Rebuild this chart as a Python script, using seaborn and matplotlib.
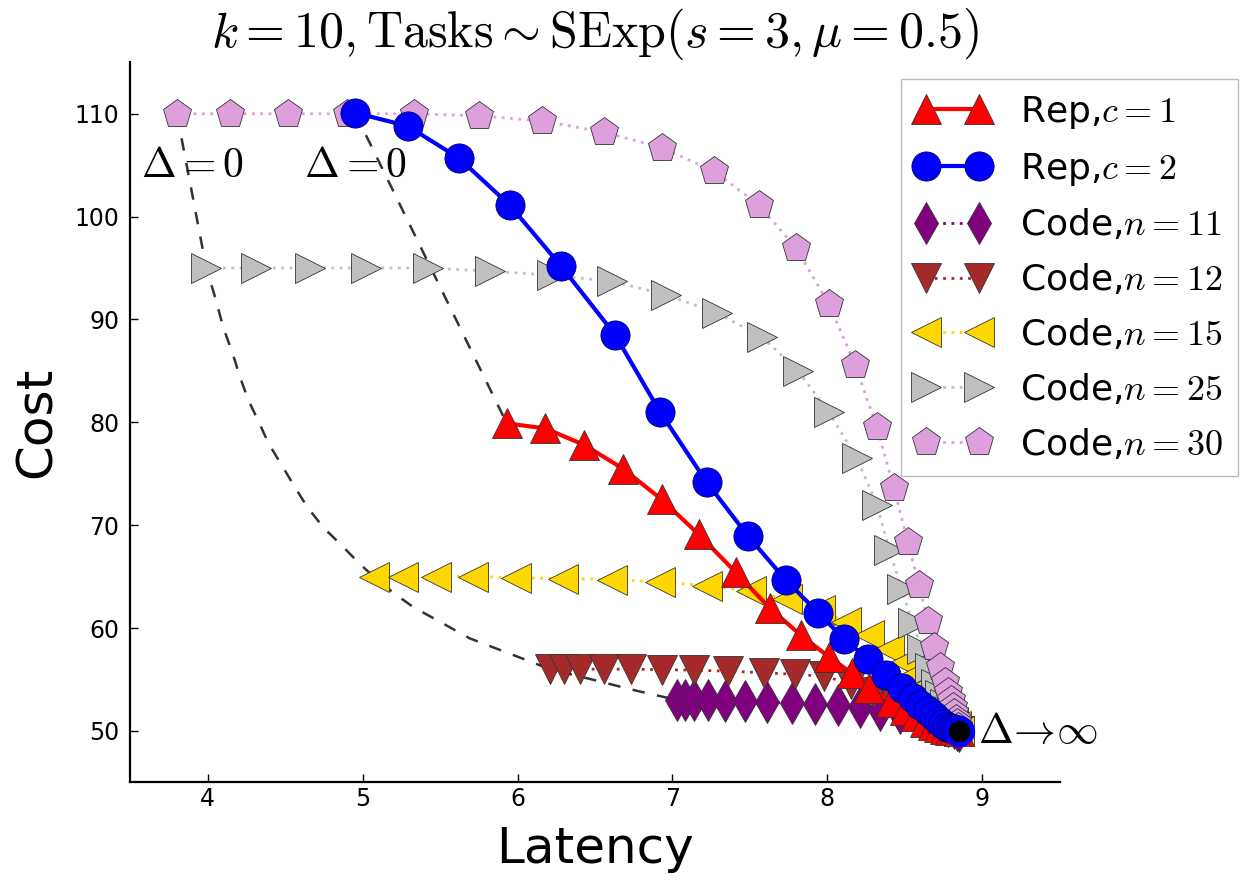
import numpy as np
import pandas as pd
import seaborn as sns
import matplotlib
matplotlib.use('Agg')
import matplotlib.pyplot as plt

# latency / cost points, one list per scheme (Delta grows along each list)
rep1_lat = [5.93, 6.18, 6.43, 6.68, 6.93, 7.17, 7.41, 7.63, 7.83, 8.01, 8.16, 8.27, 8.41, 8.50, 8.57,
            8.63, 8.68, 8.72, 8.76, 8.79, 8.82, 8.85]
rep1_cost = [79.9, 79.4, 77.8, 75.5, 72.5, 69.1, 65.4, 61.9, 59.3, 57.2, 55.6, 54.2, 52.8, 52.0, 51.4,
             50.9, 50.6, 50.4, 50.2, 50.1, 50.05, 50.0]

rep2_lat = [4.95, 5.29, 5.62, 5.95, 6.28, 6.63, 6.92, 7.22, 7.49, 7.73, 7.94, 8.11, 8.26, 8.38, 8.48,
            8.55, 8.60, 8.65, 8.69, 8.72, 8.75, 8.77, 8.80, 8.82, 8.84, 8.85]
rep2_cost = [110.1, 108.8, 105.7, 101.1, 95.2, 88.5, 81.0, 74.2, 68.9, 64.7, 61.5, 58.9, 57.0, 55.4, 54.2,
             53.2, 52.5, 51.9, 51.4, 51.0, 50.7, 50.4, 50.3, 50.2, 50.1, 50.0]

n11_lat = [7.03, 7.08, 7.14, 7.23, 7.34, 7.47, 7.61, 7.77, 7.92, 8.07, 8.21, 8.34, 8.47, 8.58, 8.66,
           8.73, 8.78, 8.82, 8.84, 8.85]
n11_cost = [53.0, 53.0, 53.0, 53.0, 52.95, 52.9, 52.8, 52.7, 52.6, 52.5, 52.3, 52.0, 51.7, 51.4, 51.1,
            50.8, 50.5, 50.3, 50.1, 50.0]

n12_lat = [6.21, 6.30, 6.40, 6.56, 6.73, 6.93, 7.14, 7.36, 7.59, 7.79, 7.98, 8.15, 8.30, 8.43, 8.53,
           8.61, 8.68, 8.73, 8.77, 8.81, 8.83, 8.85]
n12_cost = [56.0, 56.0, 56.0, 56.0, 56.0, 55.95, 55.9, 55.8, 55.65, 55.5, 55.3, 54.6, 53.8, 53.0, 52.3,
            51.7, 51.2, 50.8, 50.5, 50.3, 50.1, 50.0]

n15_lat = [5.07, 5.26, 5.47, 5.71, 5.99, 6.29, 6.61, 6.92, 7.22, 7.51, 7.74, 7.95, 8.12, 8.27, 8.40,
           8.50, 8.57, 8.63, 8.68, 8.72, 8.76, 8.79, 8.81, 8.83, 8.85]
n15_cost = [65.0, 65.0, 65.0, 65.0, 64.9, 64.8, 64.7, 64.5, 64.1, 63.6, 62.8, 61.8, 60.6, 59.3, 58.0,
            56.7, 55.5, 54.4, 53.5, 52.7, 52.0, 51.4, 50.9, 50.5, 50.0]

n25_lat = [3.99, 4.31, 4.66, 5.02, 5.42, 5.82, 6.22, 6.61, 6.96, 7.29, 7.58, 7.81, 8.01, 8.19, 8.32,
           8.40, 8.48, 8.55, 8.61, 8.66, 8.70, 8.73, 8.76, 8.78, 8.80, 8.82, 8.835, 8.85]
n25_cost = [95.0, 95.0, 95.0, 95.0, 95.0, 94.7, 94.3, 93.7, 92.4, 90.6, 88.3, 85.0, 81.0, 76.5, 72.0,
            67.6, 63.8, 60.5, 58.0, 56.1, 54.6, 53.5, 52.6, 51.9, 51.3, 50.8, 50.4, 50.0]

n30_lat = [3.80, 4.14, 4.52, 4.90, 5.33, 5.75, 6.16, 6.56, 6.93, 7.27, 7.56, 7.80, 8.01, 8.18, 8.32,
           8.43, 8.52, 8.59, 8.65, 8.69, 8.73, 8.76, 8.78, 8.80, 8.81, 8.82, 8.83, 8.84, 8.845, 8.85]
n30_cost = [110.0, 110.0, 110.0, 110.0, 110.0, 109.8, 109.3, 108.2, 106.7, 104.4, 101.1, 96.9, 91.5, 85.6, 79.5,
            73.6, 68.4, 64.2, 60.7, 58.2, 56.2, 54.8, 53.8, 53.0, 52.3, 51.7, 51.2, 50.8, 50.4, 50.0]

# Delta = 0 frontiers (dashed)
code_d0_lat = [3.80, 3.99, 4.05, 4.10, 4.16, 4.21, 4.26, 4.33, 4.39, 4.47, 4.55, 4.64, 4.75, 4.86, 4.97,
               5.07, 5.20, 5.33, 5.50, 5.69, 5.95, 6.21, 6.48, 6.74, 7.03]
code_d0_cost = [110, 95, 92, 89.2, 86.7, 84.3, 82.2, 80, 78, 76, 74, 71.8, 69.7, 68.1, 66.4,
                65, 63.4, 62, 60.6, 59, 57.5, 56, 55, 54, 53]
rep_d0_lat = [4.95, 5.93]
rep_d0_cost = [110.1, 79.9]

inf_lat = [8.85]
inf_cost = [50.0]

sns.set_style('ticks')
plt.rcParams['font.family'] = ['DejaVu Sans']
plt.rcParams['mathtext.fontset'] = 'cm'
plt.rcParams['xtick.direction'] = 'in'
plt.rcParams['ytick.direction'] = 'in'
for key in ['text.color', 'axes.labelcolor', 'xtick.color', 'ytick.color', 'axes.edgecolor']:
    plt.rcParams[key] = 'black'

fig = plt.figure(figsize=(12.54, 8.9), dpi=100)
ax = fig.add_axes([0.104, 0.121, 0.741, 0.809])

ms = 21
dots = (0, (1, 2))
# dashed Delta=0 curves
sns.lineplot(x=code_d0_lat, y=code_d0_cost, sort=False, estimator=None, color='#333333',
             linestyle=(0, (5, 5)), lw=1.8, ax=ax, zorder=1)
sns.lineplot(x=rep_d0_lat, y=rep_d0_cost, sort=False, estimator=None, color='#333333',
             linestyle=(0, (5, 5)), lw=1.8, ax=ax, zorder=1)

code_series = [
    (n11_lat, n11_cost, 'purple', 'd', 'Code,$n=11$'),
    (n12_lat, n12_cost, 'brown', 'v', 'Code,$n=12$'),
    (n15_lat, n15_cost, 'gold', '<', 'Code,$n=15$'),
    (n25_lat, n25_cost, 'silver', '>', 'Code,$n=25$'),
    (n30_lat, n30_cost, 'plum', 'p', 'Code,$n=30$'),
]
for lat, cost, col, mk, lab in code_series:
    sns.lineplot(x=lat, y=cost, sort=False, estimator=None, color=col, marker=mk, ms=ms,
                 mec='#333333', mew=0.6, linestyle=dots, lw=2, label=lab, ax=ax, zorder=2)

sns.lineplot(x=rep1_lat, y=rep1_cost, sort=False, estimator=None, color='red', marker='^', ms=ms,
             mec='#333333', mew=0.6, lw=3, label='Rep,$c=1$', ax=ax, zorder=3)
sns.lineplot(x=rep2_lat, y=rep2_cost, sort=False, estimator=None, color='blue', marker='o', ms=ms,
             mec='#000066', mew=0.6, lw=3, label='Rep,$c=2$', ax=ax, zorder=3)

ax.plot(inf_lat, inf_cost, 'o', ms=19, mfc='black', mec='blue', mew=3.5, zorder=4)

ax.text(3.57, 105, r'$\Delta=0$', fontsize=30, va='center', ha='left')
ax.text(4.62, 105, r'$\Delta=0$', fontsize=30, va='center', ha='left')
ax.text(8.97, 50, r'$\Delta\!\rightarrow\!\infty$', fontsize=30, va='center', ha='left')

ax.set_xlim(3.5, 9.5)
ax.set_ylim(45, 115)
ax.set_xticks([4, 5, 6, 7, 8, 9])
ax.set_yticks([50, 60, 70, 80, 90, 100, 110])
ax.tick_params(labelsize=17, length=6, width=1)
ax.tick_params(axis='y', pad=8)
sns.despine(ax=ax)
for s in ['left', 'bottom']:
    ax.spines[s].set_linewidth(1.6)

ax.set_xlabel('Latency', fontsize=36, labelpad=10)
ax.set_ylabel('Cost', fontsize=36, labelpad=10)
ax.set_title(r'$k=10, \mathrm{Tasks} \sim \mathrm{SExp}(s=3, \mu=0.5)$', fontsize=36, pad=4)

handles, labels = ax.get_legend_handles_labels()
order = [5, 6, 0, 1, 2, 3, 4]
ax.legend([handles[i] for i in order], [labels[i] for i in order], loc='upper right',
          bbox_to_anchor=(0.987, 0.911), bbox_transform=fig.transFigure, fontsize=26,
          numpoints=2, handlelength=2.05, handletextpad=0.85, labelspacing=0.55,
          borderpad=0.4, borderaxespad=0, fancybox=False, edgecolor='#bbbbbb', framealpha=1)

fig.savefig('out.png', dpi=100)
